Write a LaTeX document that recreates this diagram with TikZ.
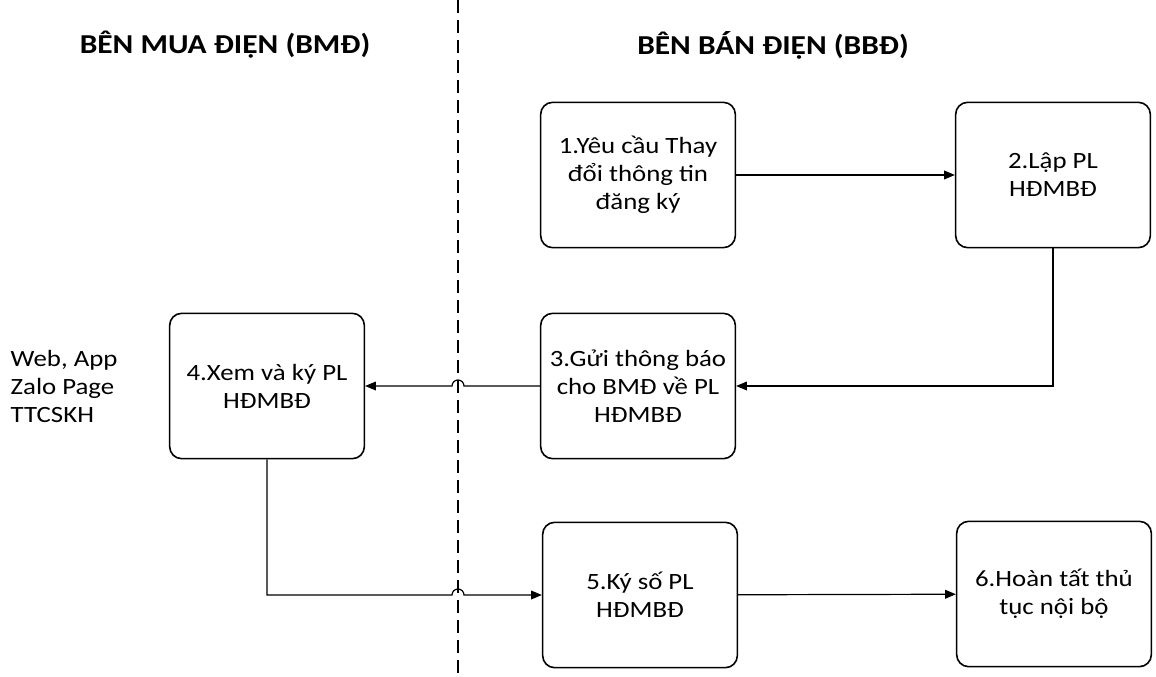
\documentclass[tikz,border=0pt]{standalone}
\usepackage{fontspec}
\setmainfont{Carlito}[FakeStretch=1.15]
\usetikzlibrary{arrows.meta}

\tikzset{
  stepbox/.style={draw, line width=1.2pt, rounded corners=9pt, minimum width=146pt, minimum height=109pt, align=center, inner sep=2pt, font=\fontsize{17.5}{21}\selectfont},
  flow/.style={line width=0.9pt, -{Triangle[length=8pt,width=6.5pt]}},
  side/.style={font=\fontsize{20.5}{24}\selectfont\bfseries}
}

\begin{document}
\begin{tikzpicture}[x=0.75pt, y=0.75pt]
            \useasboundingbox (0,0) rectangle (1156,676);
            \coordinate (top) at (458,676);
            \coordinate (bot) at (458,0);
            \draw[line width=0.9pt, dash pattern=on 10pt off 5pt] (top) -- (bot);
            \node[side] (buyer) at (225,631) {BÊN MUA ĐIỆN (BMĐ)};
            \node[side] (seller) at (773,631) {BÊN BÁN ĐIỆN (BBĐ)};
            \node[anchor=west, align=left, font=\fontsize{17.5}{21}\selectfont] (channels) at (6,290) {Web, App\\Zalo Page\\TTCSKH};
            \node[stepbox] (s1) at (638,501) {1.Yêu cầu Thay\\đổi thông tin\\đăng ký};
            \node[stepbox] (s2) at (1053,501) {2.Lập PL\\HĐMBĐ};
            \node[stepbox] (s3) at (638,290) {3.Gửi thông báo\\cho BMĐ về PL\\HĐMBĐ};
            \node[stepbox] (s4) at (267,290) {4.Xem và ký PL\\HĐMBĐ};
            \node[stepbox] (s5) at (640,81) {5.Ký số PL\\HĐMBĐ};
            \node[stepbox] (s6) at (1054,82) {6.Hoàn tất thủ\\tục nội bộ};
            \draw[flow] (s1) -- (s2);
            \draw[flow] (s2.south) |- (s3.east);
            \draw[flow] (s3.west) -- (464,290) arc[start angle=0, end angle=180, radius=4.5pt] -- (s4.east);
            \draw[flow] (s4.south) -- (s4.south |- s5.west) -- (452,81) arc[start angle=180, end angle=0, radius=4.5pt] -- (s5.west);
            \draw[flow] (s5) -- (s6);
        \end{tikzpicture}
\end{document}
